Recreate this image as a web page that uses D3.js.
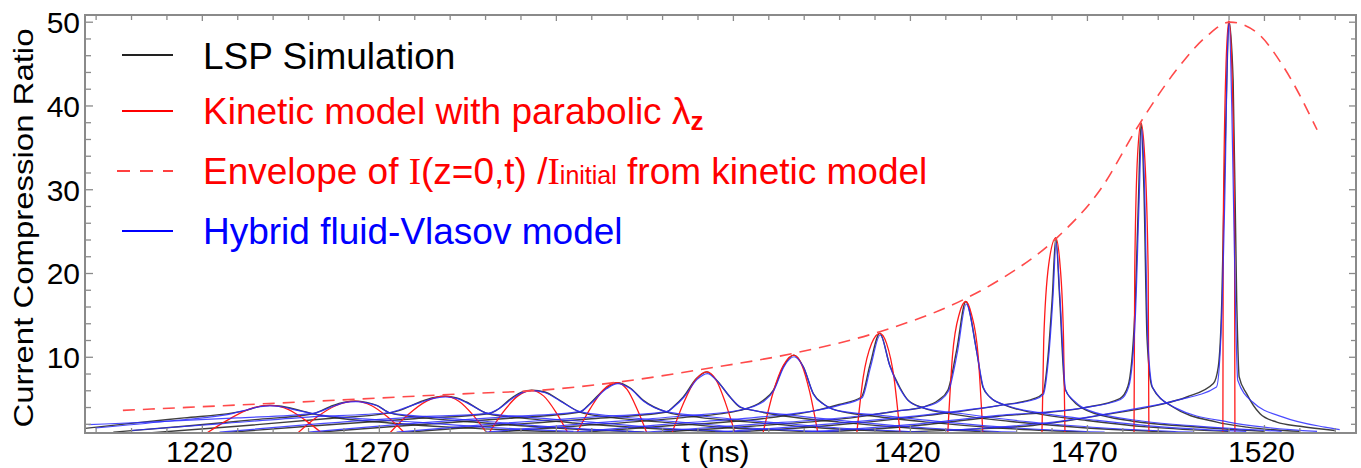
<!DOCTYPE html>
<html><head><meta charset="utf-8">
<script src="https://cdn.jsdelivr.net/npm/d3@7"></script>
<style>body{margin:0;background:#fff}svg{display:block}</style>
</head><body>
<svg id="c" width="1361" height="468"></svg>
<script>
// ---------------- data ----------------
const xDomain = [1187, 1546];
const yDomain = [0.9, 50.8];
const xMajorTicks = [1220, 1270, 1320, 1370, 1420, 1470, 1520];
const xTickLabels = ["1220", "1270", "1320", "t (ns)", "1420", "1470", "1520"];
const xMinorTicks = [1190,1200,1210,1230,1240,1250,1260,1280,1290,1300,1310,1330,1340,1350,1360,1380,1390,1400,1410,1430,1440,1450,1460,1480,1490,1500,1510,1530,1540];
const yMajorTicks = [10, 20, 30, 40, 50];
const yMinorTicks = [2,4,6,8,12,14,16,18,22,24,26,28,32,34,36,38,42,44,46,48];

const legendLabels = ["LSP Simulation", "Kinetic model with parabolic λ", "Envelope of ", "Hybrid fluid-Vlasov model"];

// LSP simulation curves (black), one per observation point
const lsp1 = [[1187,1.45],[1200,2.05],[1215,2.7],[1228.8,3.3],[1232.6,3.6],[1236,4.05],[1239.2,4.2],[1242.5,4.1],[1245.8,3.8],[1251.4,3.2],[1260,2.6],[1273,2.1],[1290,1.6],[1310,1.2],[1330,0.9]];
const lsp2 = [[1195,1.0],[1215,1.7],[1235,2.5],[1251.4,3.2],[1257.1,4.2],[1260,4.55],[1263.2,4.7],[1266.5,4.55],[1269.4,4.2],[1273.1,3.3],[1283,2.7],[1300,2.1],[1320,1.5],[1345,1.0]];
const lsp3 = [[1205,0.9],[1230,1.7],[1255,2.6],[1273.1,3.3],[1275.9,3.6],[1281.6,4.6],[1285,5.1],[1288.6,5.3],[1292,5.1],[1294.7,4.6],[1300.9,3.2],[1310,2.7],[1325,2.1],[1345,1.5],[1370,1.0]];
const lsp4 = [[1225,0.9],[1250,1.7],[1280,2.6],[1300.9,3.2],[1303.2,3.6],[1307.9,5.2],[1310.5,5.8],[1313.2,6.0],[1316.9,5.8],[1321.1,4.8],[1326.8,3.4],[1335,2.8],[1350,2.2],[1370,1.5],[1395,1.0]];
const lsp5 = [[1250,0.9],[1275,1.7],[1305,2.6],[1326.8,3.4],[1329.6,4.4],[1334.3,6.3],[1337.3,6.9],[1340.9,6.3],[1344.7,4.8],[1351.3,3.4],[1360,2.8],[1375,2.2],[1395,1.5],[1420,1.0]];
const lsp6 = [[1275,0.9],[1300,1.7],[1330,2.6],[1351.3,3.4],[1353.1,4.0],[1356,5.2],[1359.7,7.4],[1362.6,8.2],[1365.4,7.2],[1369.2,5.2],[1372,4.0],[1375.8,3.6],[1385,2.9],[1400,2.2],[1420,1.5],[1445,1.0]];
const lsp7 = [[1300,0.9],[1325,1.7],[1355,2.7],[1372,3.6],[1378.6,4.8],[1381.4,6.0],[1384.2,8.8],[1387.2,10.2],[1389.9,8.8],[1392.7,5.6],[1395.5,4.4],[1399.3,3.6],[1410,2.9],[1425,2.2],[1445,1.5],[1470,1.0]];
const lsp8 = [[1325,0.9],[1350,1.7],[1380,2.7],[1393.6,3.6],[1400,4.3],[1406.3,5.2],[1408.7,9.0],[1411.5,12.8],[1414.3,9.0],[1417.2,6.3],[1419.5,4.8],[1423.7,3.9],[1433,3.1],[1448,2.3],[1470,1.5],[1495,1.0]];
const lsp9 = [[1345,0.9],[1375,1.7],[1405,2.8],[1416,3.5],[1423.7,4.0],[1428,4.8],[1430.7,6.0],[1433.2,10.8],[1435.8,16.6],[1438.8,10.8],[1440.6,6.4],[1442.6,5.2],[1447,4.2],[1455,3.3],[1470,2.4],[1487.8,1.6],[1510,1.1]];
const lsp10 = [[1365,0.9],[1395,1.7],[1425,3.0],[1445.4,4.2],[1455,5.0],[1457.5,5.6],[1459,10],[1460.2,17],[1461.2,24.2],[1462.3,17],[1463.8,6.2],[1466,4.8],[1469.9,3.6],[1483,2.3],[1498,1.7],[1520,1.1]];
const lsp11 = [[1390,0.9],[1420,1.7],[1445,2.9],[1468.9,3.9],[1479.3,5.0],[1481.6,6.5],[1483.5,15],[1484.5,28],[1485.3,37.9],[1486.1,30],[1487,12],[1488.4,6.4],[1494.3,4.0],[1506.7,2.2],[1515.2,1.6],[1530,1.1]];
const lsp12 = [[1410,0.9],[1435,1.3],[1454.7,1.8],[1473.7,3.0],[1489.7,4.2],[1498.2,5.2],[1505.7,6.8],[1507.1,8.8],[1508.1,16.8],[1508.7,28.7],[1509.5,43],[1510.1,50.1],[1511.3,43],[1512.3,16.8],[1513,7.6],[1515.1,5.6],[1518.9,3.2],[1523.6,2.2],[1530.2,1.7],[1540,1.2]];

// Kinetic model with parabolic line density (red)
const kin1 = [[1221.4,0.9],[1227.5,2.5],[1233,3.7],[1239.2,4.2],[1244.5,3.7],[1249,2.5],[1253.9,0.9]];
const kin2 = [[1247.1,0.9],[1252.5,2.8],[1257.8,4.15],[1263.2,4.7],[1268,4.15],[1272.5,2.8],[1277.3,0.9]];
const kin3 = [[1273.1,0.9],[1278.3,3.1],[1283.5,4.7],[1288.6,5.3],[1292.6,4.7],[1296.5,3.1],[1300.5,0.9]];
const kin4 = [[1301.1,0.9],[1305.1,3.4],[1309.2,5.3],[1313.2,6.0],[1316.6,5.3],[1320,3.4],[1323.4,0.9]];
const kin5 = [[1325.9,0.9],[1329.7,3.8],[1333.5,6.1],[1337.3,6.9],[1340.1,6.1],[1342.9,3.8],[1345.7,0.9]];
const kin6 = [[1352.8,0.9],[1356.1,4.5],[1359.4,7.2],[1362.6,8.2],[1365.3,7.2],[1367.9,4.5],[1370.6,0.9]];
const kin7 = [[1378.5,0.9],[1381.4,5.8],[1384.3,9.0],[1387.2,10.2],[1389.5,9.0],[1391.7,5.8],[1394,0.9]];
const kin8 = [[1405,0.9],[1406.8,7.5],[1409.2,11.6],[1411.5,12.8],[1413.4,11.6],[1415.5,7.5],[1417.2,0.9]];
const kin9 = [[1430.7,0.9],[1432,10],[1434,15.2],[1435.8,16.6],[1437.3,15.2],[1439.3,10],[1440.6,0.9]];
const kin10 = [[1457.3,0.9],[1457.8,12],[1459.2,21],[1461.2,24.2],[1462.4,21],[1463.4,12],[1463.8,0.9]];
const kin11 = [[1483.3,0.9],[1483.5,20],[1484.3,34],[1485.3,37.9],[1486.3,34],[1487.3,20],[1487.5,0.9]];
const kin12 = [[1508.4,0.9],[1508.5,25],[1509.3,45],[1510.1,50.1],[1510.9,45],[1511.7,25],[1511.8,0.9]];

// Envelope of I(z=0,t)/I_initial (red dashed)
const envelope = [[1197.7,3.6],[1247.7,4.6],[1294.9,5.6],[1315.5,6.0],[1338.1,7.0],[1362.7,8.6],[1387,10.4],[1411.5,13.0],[1435,16.8],[1445.4,19.2],[1461.5,24.2],[1473.7,29.9],[1485,37.9],[1495.4,44.3],[1503.9,48.3],[1510.4,49.95],[1518,48.7],[1525.4,44.7],[1535,37.1]];

// Hybrid fluid-Vlasov model (blue)
const hyb1 = [[1190,1.5],[1210,2.3],[1228.8,3.25],[1233,3.7],[1236.5,4.05],[1239.5,4.15],[1243,4.0],[1246,3.7],[1251.4,3.2],[1262,2.7],[1280,2.2],[1300,1.6],[1325,1.1]];
const hyb2 = [[1188,1.9],[1205,2.2],[1230,2.7],[1251.4,3.25],[1257.5,4.15],[1260.5,4.55],[1263.5,4.65],[1266.5,4.5],[1269.6,4.15],[1273.1,3.3],[1285,2.8],[1300,2.3],[1320,1.6],[1345,1.0]];
const hyb3 = [[1200,1.2],[1225,2.0],[1250,2.8],[1273.1,3.35],[1276,3.7],[1281.8,4.55],[1285.2,5.0],[1288.8,5.2],[1292.2,5.0],[1294.9,4.5],[1300.9,3.25],[1312,2.8],[1330,2.2],[1350,1.5],[1375,1.0]];
const hyb4 = [[1225,1.0],[1250,1.9],[1280,2.8],[1300.9,3.25],[1303.5,3.7],[1308,5.1],[1310.7,5.75],[1313.4,5.95],[1317,5.7],[1321.3,4.7],[1326.8,3.45],[1337,2.9],[1355,2.2],[1375,1.5],[1400,1.0]];
const hyb5 = [[1250,1.0],[1275,1.9],[1305,2.8],[1326.8,3.45],[1329.8,4.4],[1334.4,6.2],[1337.5,6.8],[1341,6.2],[1344.8,4.7],[1351.3,3.45],[1362,2.9],[1380,2.2],[1400,1.5],[1425,1.0]];
const hyb6 = [[1275,1.0],[1300,1.9],[1330,2.8],[1351.3,3.45],[1353.3,4.0],[1356.2,5.2],[1359.9,7.3],[1362.8,8.0],[1365.6,7.1],[1369.4,5.1],[1372.2,4.0],[1375.8,3.6],[1387,3.0],[1405,2.2],[1425,1.5],[1450,1.0]];
const hyb7 = [[1300,1.0],[1325,1.9],[1355,2.9],[1372,3.65],[1378.8,4.7],[1381.6,6.0],[1384.4,8.8],[1387.3,10.0],[1390,8.7],[1392.8,5.5],[1395.7,4.3],[1399.3,3.6],[1412,3.0],[1430,2.2],[1450,1.5],[1475,1.0]];
const hyb8 = [[1325,1.0],[1350,1.9],[1380,2.9],[1393.6,3.6],[1400,4.2],[1406.5,5.1],[1408.9,8.8],[1411.6,12.6],[1414.4,8.8],[1417.3,6.1],[1419.7,4.7],[1423.7,3.9],[1435,3.2],[1452,2.3],[1475,1.5],[1500,1.0]];
const hyb9 = [[1345,1.0],[1375,1.9],[1405,2.9],[1416,3.5],[1423.7,4.0],[1428.2,4.7],[1430.9,5.9],[1433.4,10.5],[1435.9,16.3],[1438.9,10.5],[1440.8,6.3],[1442.8,5.1],[1448,4.1],[1457,3.3],[1473,2.4],[1492,1.6],[1515,1.1]];
const hyb10 = [[1365,1.0],[1395,1.9],[1425,3.1],[1445.4,4.2],[1455.2,4.9],[1457.7,5.5],[1459.2,10],[1460.4,17],[1461.3,23.6],[1462.4,17],[1464,6.0],[1466.5,4.7],[1470.5,3.6],[1486,2.3],[1502,1.7],[1525,1.1]];
const hyb11 = [[1390,1.0],[1420,1.9],[1445,3.0],[1468.9,3.9],[1479.5,4.9],[1481.8,6.4],[1483.7,15],[1484.7,28],[1485.5,37.2],[1486.3,30],[1487.2,12],[1488.6,6.3],[1495,3.9],[1510,2.2],[1520,1.6],[1535,1.1]];
const hyb12 = [[1430,1.2],[1464.2,2.4],[1481.2,3.6],[1495.3,4.8],[1506.6,6.4],[1507.8,12],[1509,30],[1509.8,48],[1510.2,49.8],[1510.9,40],[1512,15],[1512.6,7.2],[1516.8,4.6],[1525.4,2.8],[1537.2,1.6],[1541.4,1.3]];

const lspCurves = [lsp1,lsp2,lsp3,lsp4,lsp5,lsp6,lsp7,lsp8,lsp9,lsp10,lsp11,lsp12];
const kinCurves = [kin1,kin2,kin3,kin4,kin5,kin6,kin7,kin8,kin9,kin10,kin11,kin12];
const hybCurves = [hyb1,hyb2,hyb3,hyb4,hyb5,hyb6,hyb7,hyb8,hyb9,hyb10,hyb11,hyb12];

// ---------------- drawing ----------------
const svg = d3.select("#c");
const L = 85, T = 15, R = 1356, B = 433;
const x = d3.scaleLinear().domain(xDomain).range([L, R]);
const y = d3.scaleLinear().domain(yDomain).range([B, T]);
const FONT = "'Liberation Sans', Arial, sans-serif";
const frameColor = "#8a8a8a";

svg.append("defs").append("clipPath").attr("id","clip")
  .append("rect").attr("x",L).attr("y",T).attr("width",R-L).attr("height",B-T);

const plot = svg.append("g").attr("clip-path","url(#clip)");
const line = d3.line().x(d=>x(d[0])).y(d=>y(d[1])).curve(d3.curveMonotoneX);

plot.selectAll("path.lsp").data(lspCurves).join("path").attr("class","lsp")
  .attr("d", line).attr("fill","none").attr("stroke","#2a2a2a").attr("stroke-width",1.4).attr("stroke-opacity",0.9);
plot.selectAll("path.kin").data(kinCurves).join("path").attr("class","kin")
  .attr("d", line).attr("fill","none").attr("stroke","#ff1a1a").attr("stroke-width",1.3);
plot.selectAll("path.hyb").data(hybCurves).join("path").attr("class","hyb")
  .attr("d", line).attr("fill","none").attr("stroke","#2b2bff").attr("stroke-width",1.2).attr("stroke-opacity",0.85);
plot.append("path").datum(envelope).attr("d", line.curve(d3.curveMonotoneX))
  .attr("fill","none").attr("stroke","#ff4a4a").attr("stroke-width",1.6).attr("stroke-dasharray","12,8");

// axes (ticks inside, on all four sides)
function styleAxis(g){
  g.select(".domain").remove();
  g.selectAll(".tick line").attr("stroke", frameColor).attr("stroke-width",1.3);
}
svg.append("g").attr("transform",`translate(0,${B})`)
  .call(d3.axisBottom(x).tickValues(xMinorTicks).tickSize(-5).tickFormat(""))
  .call(styleAxis);
const xb = svg.append("g").attr("transform",`translate(0,${B})`)
  .call(d3.axisBottom(x).tickValues(xMajorTicks).tickSize(-8).tickPadding(0)
    .tickFormat((d,i)=>xTickLabels[i]))
  .call(styleAxis);
xb.selectAll(".tick text").attr("font-family",FONT).attr("font-size",30).attr("fill","#000")
  .attr("y",29).attr("dy",0).attr("dx",(d,i)=> xTickLabels[i]==="t (ns)" ? -18 : -3);

svg.append("g").attr("transform",`translate(0,${T})`)
  .call(d3.axisTop(x).tickValues(xMinorTicks).tickSize(-5).tickFormat("")).call(styleAxis);
svg.append("g").attr("transform",`translate(0,${T})`)
  .call(d3.axisTop(x).tickValues(xMajorTicks).tickSize(-6).tickFormat("")).call(styleAxis);

svg.append("g").attr("transform",`translate(${L},0)`)
  .call(d3.axisLeft(y).tickValues(yMinorTicks).tickSize(-6).tickFormat("")).call(styleAxis);
const yl = svg.append("g").attr("transform",`translate(${L},0)`)
  .call(d3.axisLeft(y).tickValues(yMajorTicks).tickSize(-8).tickPadding(0).tickFormat(d3.format("d")))
  .call(styleAxis);
yl.selectAll(".tick text").attr("font-family",FONT).attr("font-size",30).attr("fill","#000")
  .attr("x",-5).attr("dy","0.36em");

svg.append("g").attr("transform",`translate(${R},0)`)
  .call(d3.axisRight(y).tickValues(yMinorTicks).tickSize(-5).tickFormat("")).call(styleAxis);
svg.append("g").attr("transform",`translate(${R},0)`)
  .call(d3.axisRight(y).tickValues(yMajorTicks).tickSize(-7).tickFormat("")).call(styleAxis);

// frame
svg.append("rect").attr("x",L).attr("y",T).attr("width",R-L).attr("height",B-T)
  .attr("fill","none").attr("stroke",frameColor).attr("stroke-width",2);

// y title
svg.append("text").attr("transform","translate(33,228) rotate(-90)")
  .attr("text-anchor","middle").attr("font-family",FONT).attr("font-size",28)
  .attr("textLength",399).attr("lengthAdjust","spacingAndGlyphs")
  .attr("fill","#000").text("Current Compression Ratio");

// legend
const lg = svg.append("g");
const rows = [55, 111, 171, 231];
const lx1 = 122, lx2 = 173, tx = 203, LF = 37;
lg.append("line").attr("x1",lx1).attr("x2",lx2).attr("y1",rows[0]).attr("y2",rows[0]).attr("stroke","#222").attr("stroke-width",2);
lg.append("line").attr("x1",lx1).attr("x2",lx2).attr("y1",rows[1]).attr("y2",rows[1]).attr("stroke","#ff0000").attr("stroke-width",2);
lg.append("line").attr("x1",117).attr("x2",lx2).attr("y1",rows[2]).attr("y2",rows[2]).attr("stroke","#ff4040").attr("stroke-width",2).attr("stroke-dasharray","13,10");
lg.append("line").attr("x1",lx1).attr("x2",lx2).attr("y1",rows[3]).attr("y2",rows[3]).attr("stroke","#0000ff").attr("stroke-width",2);

lg.append("text").attr("x",tx).attr("y",rows[0]+14).attr("font-family",FONT).attr("font-size",LF).attr("fill","#000").text(legendLabels[0]);
const k = lg.append("text").attr("x",tx).attr("y",rows[1]+13).attr("font-family",FONT).attr("font-size",LF).attr("fill","#ff0000");
k.append("tspan").text(legendLabels[1]);
k.append("tspan").attr("dy",6).attr("font-size",26).attr("font-weight","bold").text("z");
const e = lg.append("text").attr("x",tx).attr("y",rows[2]+13).attr("font-family",FONT).attr("font-size",LF).attr("fill","#ff0000");
e.append("tspan").text(legendLabels[2]);
e.append("tspan").attr("font-family","'Liberation Serif', 'Times New Roman', serif").text("I");
e.append("tspan").text("(z=0,t) /");
e.append("tspan").attr("font-family","'Liberation Serif', 'Times New Roman', serif").text("I");
e.append("tspan").attr("font-size",25).text("initial");
e.append("tspan").text(" from kinetic model");
lg.append("text").attr("x",tx).attr("y",rows[3]+13).attr("font-family",FONT).attr("font-size",LF).attr("fill","#0000ff").text(legendLabels[3]);
</script>
</body></html>
